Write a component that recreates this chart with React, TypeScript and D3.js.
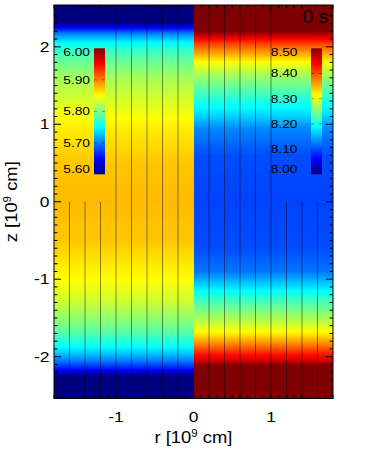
import * as d3 from 'd3'

// profiles read along z, left half (r < 0) and right half (r > 0)
const leftZ = [-2.54, -2.3, -2.22, -2.15, -2.05, -1.95, -1.85, -1.65, -1.3, -1.0, -0.5, 0, 0.5, 1.0, 1.3, 1.6, 1.9, 2.05, 2.17, 2.26, 2.34, 2.54]
const leftValue = [5.55, 5.57, 5.62, 5.66, 5.70, 5.73, 5.755, 5.79, 5.83, 5.85, 5.872, 5.877, 5.872, 5.855, 5.835, 5.815, 5.78, 5.75, 5.70, 5.64, 5.58, 5.55]
const rightZ = [-2.54, -2.15, -2.05, -1.95, -1.83, -1.7, -1.55, -1.41, -1.2, -1.05, -0.9, -0.6, 0, 0.6, 0.95, 1.1, 1.24, 1.5, 1.69, 1.82, 1.95, 2.05, 2.12, 2.2, 2.54]
const rightValue = [8.55, 8.52, 8.46, 8.42, 8.37, 8.32, 8.28, 8.25, 8.2, 8.16, 8.12, 8.1, 8.095, 8.1, 8.13, 8.165, 8.19, 8.24, 8.28, 8.32, 8.37, 8.41, 8.45, 8.5, 8.55]

const fieldLineR = [-1.6, -1.4, -1.2, -1.0, -0.8, -0.6, -0.4, -0.2, 0.2, 0.4, 0.6, 0.8, 1.0, 1.2, 1.4, 1.6]
const fieldLineTop = [0, 0, 0, 2.54, 2.54, 2.54, 2.54, 2.54, 2.54, 2.54, 2.54, 2.54, 2.54, 0, 0, 0]

const xTickValues = [-1, 0, 1]
const yTickValues = [-2, -1, 0, 1, 2]
const leftBarDomain = [5.6, 6.0]
const rightBarDomain = [8.0, 8.5]
const leftBarTicks = [5.6, 5.7, 5.8, 5.9, 6.0]
const rightBarTicks = [8.0, 8.1, 8.2, 8.3, 8.4, 8.5]
const timeLabel = '0 s'

const jetStops = [0, 0.125, 0.375, 0.625, 0.875, 1]
const jetColors = ['#00007f', '#0000ff', '#00ffff', '#ffff00', '#ff0000', '#7f0000']

const W = 387
const H = 453
const margin = { top: 5, right: 54, bottom: 54.5, left: 54 }
const font = '"Liberation Sans", Arial, Helvetica, sans-serif'

export default function App() {
  const x = d3.scaleLinear().domain([-1.8, 1.8]).range([margin.left, W - margin.right])
  const y = d3.scaleLinear().domain([-2.54, 2.54]).range([H - margin.bottom, margin.top])
  const jet = d3.scaleLinear<string>().domain(jetStops).range(jetColors).interpolate(d3.interpolateRgb).clamp(true)

  const leftProfile = d3.scaleLinear().domain(leftZ).range(leftValue).clamp(true)
  const rightProfile = d3.scaleLinear().domain(rightZ).range(rightValue).clamp(true)
  const leftNorm = d3.scaleLinear().domain(leftBarDomain).range([0, 1])
  const rightNorm = d3.scaleLinear().domain(rightBarDomain).range([0, 1])

  const y0 = y.range()[1]
  const y1 = y.range()[0]
  const rows = d3.range(Math.floor(y0), Math.ceil(y1), 1)

  const barTop = 48.3
  const barBottom = 174.3
  const leftBar = d3.scaleLinear().domain(leftBarDomain).range([barBottom, barTop])
  const rightBar = d3.scaleLinear().domain(rightBarDomain).range([barBottom, barTop])
  const gradStops = d3.range(0, 1.0001, 0.02)

  const minorX = d3.range(-1.8, 1.8001, 0.1)
  const minorY = d3.range(-2.5, 2.5001, 0.1)
  const isMajor = (v: number) => Math.abs(v - Math.round(v)) < 1e-6

  const labelY = (v: number) => Math.max(52, Math.min(169, v))

  return (
    <svg width={W} height={H} style={{ position: 'absolute', left: 0, top: 0 }} fontFamily={font}>
      <defs>
        <linearGradient id="jetbar" x1="0" y1="1" x2="0" y2="0">
          {gradStops.map((t, i) => (
            <stop key={i} offset={t} stopColor={jet(t)} />
          ))}
        </linearGradient>
        <clipPath id="plotclip">
          <rect x={x(-1.8)} y={y0} width={x(1.8) - x(-1.8)} height={y1 - y0} />
        </clipPath>
      </defs>

      <g clipPath="url(#plotclip)" shapeRendering="crispEdges">
        {rows.map(r => {
          const z = y.invert(r + 0.5)
          return (
            <g key={r}>
              <rect x={x(-1.8)} y={r} width={x(0) - x(-1.8)} height={1.05} fill={jet(leftNorm(leftProfile(z)))} />
              <rect x={x(0)} y={r} width={x(1.8) - x(0)} height={1.05} fill={jet(rightNorm(rightProfile(z)))} />
            </g>
          )
        })}
      </g>

      <g clipPath="url(#plotclip)">
        {fieldLineR.map((r, i) => (
          <line key={i} x1={x(r)} x2={x(r)} y1={y(-2.54)} y2={y(fieldLineTop[i])}
            stroke="#000" strokeOpacity={0.45} strokeWidth={1} />
        ))}
      </g>

      {/* colorbars */}
      <rect x={94} y={barTop} width={11} height={barBottom - barTop} fill="url(#jetbar)" />
      <rect x={311} y={barTop} width={11} height={barBottom - barTop} fill="url(#jetbar)" />
      {leftBarTicks.slice(1, -1).map((v, i) => (
        <g key={'lt' + i} stroke="#000" strokeOpacity={0.35}>
          <line x1={94} x2={97} y1={leftBar(v)} y2={leftBar(v)} />
          <line x1={102} x2={105} y1={leftBar(v)} y2={leftBar(v)} />
        </g>
      ))}
      {rightBarTicks.slice(1, -1).map((v, i) => (
        <g key={'rt' + i} stroke="#000" strokeOpacity={0.35}>
          <line x1={311} x2={314} y1={rightBar(v)} y2={rightBar(v)} />
          <line x1={319} x2={322} y1={rightBar(v)} y2={rightBar(v)} />
        </g>
      ))}
      {leftBarTicks.map((v, i) => (
        <text key={'ll' + i} transform={`translate(90,${labelY(leftBar(v)) + 3.9}) scale(1.25,1)`}
          textAnchor="end" fontSize={11} fill="#000">{v.toFixed(2)}</text>
      ))}
      {rightBarTicks.map((v, i) => (
        <text key={'rl' + i} transform={`translate(297.5,${labelY(rightBar(v)) + 3.9}) scale(1.25,1)`}
          textAnchor="end" fontSize={11} fill="#000">{v.toFixed(2)}</text>
      ))}

      <text transform={`translate(328.5,22.7) scale(1.07,1)`} textAnchor="end" fontSize={18} fill="#000">{timeLabel}</text>

      {/* frame and ticks */}
      <rect x={x(-1.8)} y={y0} width={x(1.8) - x(-1.8)} height={y1 - y0} fill="none" stroke="#000" strokeWidth={1} />
      <g stroke="#000" strokeWidth={1}>
        {minorX.map((v, i) => {
          const len = isMajor(v) ? 7 : 3.5
          return (
            <g key={'xt' + i}>
              <line x1={x(v)} x2={x(v)} y1={y1} y2={y1 - len} />
              <line x1={x(v)} x2={x(v)} y1={y0} y2={y0 + len} />
            </g>
          )
        })}
        {minorY.map((v, i) => {
          const len = isMajor(v) ? 7 : 3.5
          return (
            <g key={'yt' + i}>
              <line x1={x(-1.8)} x2={x(-1.8) + len} y1={y(v)} y2={y(v)} />
              <line x1={x(1.8)} x2={x(1.8) - len} y1={y(v)} y2={y(v)} />
            </g>
          )
        })}
      </g>

      {xTickValues.map(v => (
        <text key={'xl' + v} transform={`translate(${x(v)},421.7) scale(1.2,1)`} textAnchor="middle" fontSize={14.5} fill="#000">
          {v < 0 ? '-' + Math.abs(v) : String(v)}
        </text>
      ))}
      {yTickValues.map(v => (
        <text key={'yl' + v} transform={`translate(49.5,${y(v) + 5}) scale(1.2,1)`} textAnchor="end" fontSize={14.5} fill="#000">
          {v < 0 ? '-' + Math.abs(v) : String(v)}
        </text>
      ))}

      <text transform={`translate(${x(0)},443) scale(1.15,1)`} textAnchor="middle" fontSize={16} fill="#000">
        r [10<tspan fontSize={10} dy={-6}>9</tspan><tspan dy={6}> cm]</tspan>
      </text>
      <text transform={`translate(16.5,${y(0)}) rotate(-90) scale(1.15,1)`} textAnchor="middle" fontSize={16} fill="#000">
        z [10<tspan fontSize={10} dy={-6}>9</tspan><tspan dy={6}> cm]</tspan>
      </text>
    </svg>
  )
}
